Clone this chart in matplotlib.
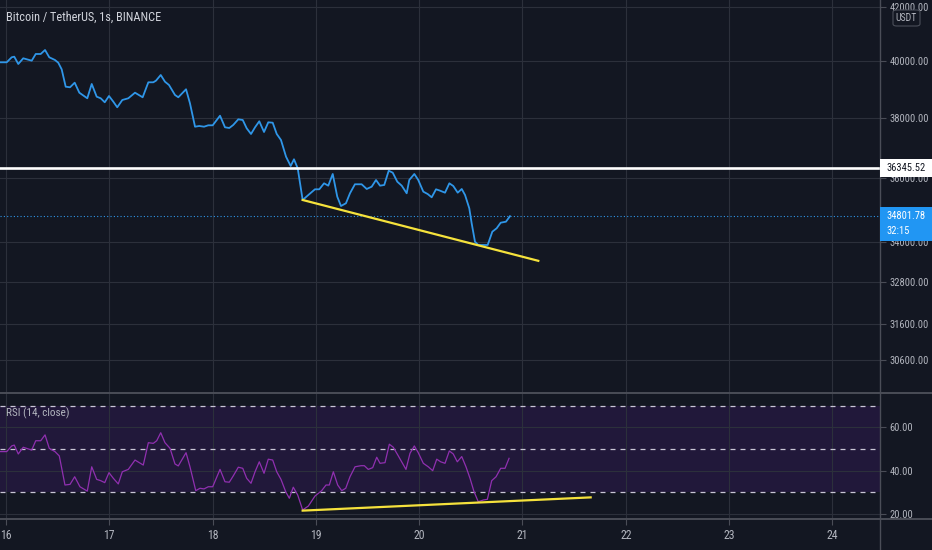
import matplotlib
matplotlib.use("Agg")
import matplotlib.pyplot as plt
from matplotlib import font_manager
from matplotlib.lines import Line2D
from matplotlib.patches import Rectangle, FancyBboxPatch
from matplotlib.ticker import NullLocator

# BTC/USDT 1s, dia del mes -> precio
price_days = [15.942, 16.007, 16.055, 16.080, 16.119, 16.167, 16.249, 16.288, 16.336, 16.378,
              16.419, 16.474, 16.506, 16.539, 16.578, 16.620, 16.665, 16.710, 16.787, 16.830,
              16.878, 16.917, 16.956, 16.997, 17.039, 17.077, 17.126, 17.184, 17.249, 17.323,
              17.378, 17.426, 17.452, 17.498, 17.539, 17.578, 17.636, 17.668, 17.743, 17.781,
              17.830, 17.871, 17.917, 17.958, 18.001, 18.072, 18.120, 18.162, 18.200, 18.249,
              18.292, 18.330, 18.372, 18.411, 18.452, 18.498, 18.539, 18.582, 18.621, 18.662,
              18.711, 18.756, 18.788, 18.824, 18.872, 18.938, 18.991, 19.033, 19.079, 19.120,
              19.163, 19.207, 19.243, 19.291, 19.330, 19.378, 19.443, 19.492, 19.540, 19.582,
              19.621, 19.662, 19.705, 19.744, 19.788, 19.831, 19.879, 19.904, 19.953, 19.991,
              20.040, 20.082, 20.121, 20.163, 20.202, 20.250, 20.292, 20.330, 20.373, 20.412,
              20.444, 20.485, 20.508, 20.540, 20.572, 20.663, 20.708, 20.750, 20.789, 20.840, 20.879]
price_vals = [39953, 39953, 40133, 40155, 39892, 40097, 40011, 40252, 40252, 40396,
              40133, 40036, 39939, 39703, 39088, 39068, 39229, 38879, 38684, 39184,
              38740, 38684, 38546, 38764, 38566, 38373, 38625, 38684, 38879, 38719,
              39243, 39243, 39300, 39501, 39264, 39148, 38799, 38719, 38998, 38511,
              37711, 37735, 37711, 37758, 37758, 38085, 37691, 37667, 37770, 37962,
              37938, 37657, 37465, 37691, 37894, 37532, 37860, 37846, 37465, 37264,
              36710, 36405, 36625, 36330, 35312, 35502, 35652, 35652, 35844, 35768,
              36145, 35416, 35122, 35208, 35525, 35813, 35813, 35662, 35735, 35951,
              35768, 35791, 36252, 36187, 35896, 35768, 35525, 35951, 36145, 35951,
              35576, 35502, 35397, 35652, 35608, 35544, 35844, 35758, 35544, 35662,
              35470, 35050, 34582, 34016, 33915, 33915, 34322, 34427, 34600, 34631, 34801.78]

rsi_days = [15.942, 16.007, 16.055, 16.080, 16.119, 16.167, 16.249, 16.288, 16.336, 16.378,
            16.419, 16.474, 16.516, 16.571, 16.620, 16.665, 16.716, 16.787, 16.830, 16.878,
            16.917, 16.956, 16.997, 17.039, 17.087, 17.126, 17.184, 17.249, 17.329, 17.378,
            17.426, 17.459, 17.498, 17.539, 17.588, 17.636, 17.668, 17.743, 17.781, 17.837,
            17.878, 17.917, 17.958, 18.001, 18.072, 18.120, 18.162, 18.200, 18.249, 18.292,
            18.330, 18.372, 18.411, 18.452, 18.498, 18.539, 18.582, 18.621, 18.662, 18.708,
            18.743, 18.781, 18.824, 18.872, 18.927, 18.991, 19.056, 19.098, 19.130, 19.169,
            19.211, 19.250, 19.289, 19.330, 19.379, 19.437, 19.469, 19.507, 19.550, 19.589,
            19.621, 19.669, 19.711, 19.749, 19.798, 19.872, 19.911, 19.953, 19.991, 20.040,
            20.088, 20.131, 20.170, 20.208, 20.250, 20.292, 20.330, 20.369, 20.412, 20.453,
            20.492, 20.531, 20.572, 20.621, 20.660, 20.702, 20.744, 20.789, 20.831, 20.870]
rsi_vals = [48.8, 48.8, 51.4, 51.8, 47.7, 50.8, 49.5, 53.8, 53.8, 56.5,
            50.3, 48.8, 46.8, 33.4, 33.7, 37.2, 32.6, 30.6, 41.8, 36.0,
            35.4, 34.5, 39.1, 36.5, 33.9, 39.5, 40.6, 44.9, 42.6, 52.9,
            52.6, 53.8, 57.5, 52.9, 50.3, 43.1, 42.2, 48.3, 41.8, 30.8,
            31.9, 31.6, 32.6, 32.6, 40.6, 34.9, 34.7, 37.6, 41.6, 41.1,
            36.5, 34.2, 39.5, 44.1, 38.8, 45.3, 44.9, 39.5, 36.0, 30.3,
            27.3, 32.4, 28.8, 21.9, 23.7, 28.3, 30.8, 33.4, 33.4, 39.5,
            33.4, 30.8, 31.9, 37.2, 41.8, 42.3, 42.3, 40.6, 41.4, 46.2,
            43.4, 43.7, 52.2, 50.8, 46.8, 40.6, 48.0, 51.4, 48.3, 43.4,
            41.8, 40.0, 45.3, 44.1, 43.4, 49.1, 47.7, 44.1, 46.5, 41.8,
            36.5, 30.3, 25.7, 26.5, 26.8, 35.4, 37.2, 41.1, 41.1, 45.7]

resistance = 36345.52
last_price = 34801.78
countdown = "32:15"
trend_days = [18.872, 21.153]
trend_price = [35312, 33437]
rsi_trend_days = [18.872, 21.660]
rsi_trend_vals = [21.6, 27.7]

price_ticks = [42000, 40000, 38000, 36000, 34000, 32800, 31600, 30600]
rsi_ticks = [20, 40, 60]
rsi_levels = [30, 50, 70]
day_ticks = list(range(16, 25))

bg = "#131722"
grid = "#2c303b"
sep = "#4a4d57"
txt = "#b2b5be"
blue = "#2f96e8"

names = {f.name for f in font_manager.fontManager.ttflist}
narrow = next((n for n in ["Liberation Sans Narrow", "Roboto Condensed", "Open Sans Condensed"]
               if n in names), "Liberation Sans")
plt.rcParams["font.family"] = [narrow, "DejaVu Sans"]

W, H = 932, 550
fig = plt.figure(figsize=(W / 100, H / 100), dpi=100, facecolor=bg)
ax = fig.add_axes([0, 1 - 393 / H, 880 / W, 393 / H], facecolor=bg)
ax2 = fig.add_axes([0, 1 - 519 / H, 880 / W, 126 / H], facecolor=bg)

xlim = (15.942, 24.461)

# panel de precio
ax.set_yscale("log")
ax.set_xlim(*xlim)
ax.set_ylim(29699, 42249)
ax.set_yticks(price_ticks)
ax.set_yticklabels(["%.2f" % t for t in price_ticks])
ax.yaxis.set_minor_locator(NullLocator())
ax.set_xticks(day_ticks)
ax.grid(True, color=grid, lw=0.8)
ax.tick_params(axis="y", left=False, labelleft=False, right=True, labelright=True,
               length=4, color=sep, labelcolor=txt, labelsize=7.6, pad=3)
ax.tick_params(axis="x", bottom=False, labelbottom=False)
for s in ax.spines.values():
    s.set_visible(False)

ax.plot(price_days, price_vals, color=blue, lw=1.3, zorder=3)
ax.axhline(resistance, color="white", lw=1.9, zorder=4)
ax.axhline(last_price, color=blue, lw=0.8, ls=(0, (1, 2)), zorder=2)
ax.plot(trend_days, trend_price, color="#f5e23c", lw=1.6, zorder=5)

# panel RSI
ax2.set_xlim(*xlim)
ax2.set_ylim(17.74, 75.8)
ax2.axhspan(rsi_levels[0], rsi_levels[-1], color="#21183a", zorder=0, lw=0)
ax2.set_yticks(rsi_ticks)
ax2.set_yticklabels(["%.2f" % t for t in rsi_ticks])
ax2.set_xticks(day_ticks)
ax2.set_xticklabels([str(d) for d in day_ticks])
ax2.grid(True, color=grid, lw=0.8)
ax2.set_axisbelow(True)
for lv in rsi_levels:
    ax2.axhline(lv, color="#c9c6d6", lw=0.9, ls=(0, (4, 4)), zorder=1)
ax2.tick_params(axis="y", left=False, labelleft=False, right=True, labelright=True,
                length=4, color=sep, labelcolor=txt, labelsize=7.6, pad=3)
ax2.tick_params(axis="x", length=4, color=sep, labelcolor=txt, labelsize=8.5, pad=3)
for s in ax2.spines.values():
    s.set_visible(False)

ax2.plot(rsi_days, rsi_vals, color="#9030b0", lw=0.9, zorder=3)
ax2.plot(rsi_trend_days, rsi_trend_vals, color="#f5e23c", lw=1.6, zorder=4)

# separadores
fig.add_artist(Line2D([0, 1], [1 - 392.5 / H] * 2, color=sep, lw=1.4))
fig.add_artist(Line2D([0, 1], [1 - 519 / H] * 2, color=sep, lw=1.4))
fig.add_artist(Line2D([880 / W] * 2, [0, 1], color=sep, lw=1.0))

fig.text(6 / W, 1 - 17 / H, "Bitcoin / TetherUS, 1s, BINANCE", color="#d1d4dc",
         fontsize=8.8, va="center", ha="left")
fig.text(6 / W, 1 - 413.5 / H, "RSI (14, close)", color=txt, fontsize=8, va="center", ha="left")

# etiqueta USDT
fig.add_artist(FancyBboxPatch((893 / W, 1 - 26 / H), 27 / W, 16 / H,
                              boxstyle="round,pad=0,rounding_size=0.004",
                              transform=fig.transFigure, fc=bg, ec="#4a4e59", lw=0.8, zorder=5))
fig.text(906.5 / W, 1 - 18 / H, "USDT", color=txt, fontsize=7, ha="center", va="center", zorder=6)


def fig_y(a, v):
    _, yd = a.transData.transform((xlim[0], v))
    return yd / fig.bbox.height


yr = fig_y(ax, resistance)
fig.add_artist(Rectangle((880 / W, yr - 9 / H), 52 / W, 18 / H, transform=fig.transFigure,
                         fc="white", ec="none", zorder=5))
fig.text(886 / W, yr, "%.2f" % resistance, color="#131722", fontsize=7.6,
         ha="left", va="center", zorder=6)

yl = fig_y(ax, last_price)
fig.add_artist(Rectangle((880 / W, yl - 24.5 / H), 52 / W, 34 / H, transform=fig.transFigure,
                         fc="#2196f3", ec="none", zorder=5))
fig.text(886 / W, yl, "%.2f" % last_price, color="white", fontsize=7.6,
         ha="left", va="center", zorder=6)
fig.text(886 / W, yl - 15 / H, countdown, color="white", fontsize=7.6,
         ha="left", va="center", zorder=6)

fig.savefig("out.png", dpi=100, facecolor=bg)
